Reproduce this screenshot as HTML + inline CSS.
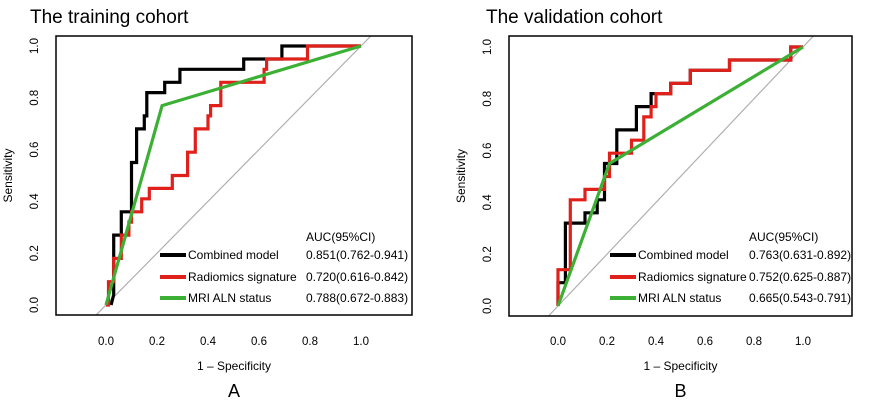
<!DOCTYPE html>
<html><head><meta charset="utf-8"><style>
body{margin:0;background:#fff;width:886px;height:401px;overflow:hidden}
svg{font-family:"Liberation Sans",sans-serif}
</style></head><body>
<svg id="s" width="886" height="401"></svg>
<script>
const tickLabels=["0.0","0.2","0.4","0.6","0.8","1.0"];
const tickValues=[0,0.2,0.4,0.6,0.8,1.0];
const seriesNames=["Combined model","Radiomics signature","MRI ALN status"];
const aucA=["0.851(0.762-0.941)","0.720(0.616-0.842)","0.788(0.672-0.883)"];
const aucB=["0.763(0.631-0.892)","0.752(0.625-0.887)","0.665(0.543-0.791)"];
const combA=[[0.02,0],[0.03,0.04],[0.03,0.27],[0.06,0.27],[0.06,0.36],[0.10,0.36],[0.10,0.55],[0.12,0.55],[0.12,0.68],[0.15,0.68],[0.15,0.73],[0.16,0.73],[0.16,0.82],[0.23,0.82],[0.23,0.86],[0.29,0.86],[0.29,0.91],[0.54,0.91],[0.54,0.95],[0.69,0.95],[0.69,1.0],[1,1]];
const radA=[[0,0],[0.01,0],[0.01,0.09],[0.03,0.09],[0.03,0.18],[0.06,0.18],[0.06,0.27],[0.09,0.27],[0.09,0.32],[0.10,0.32],[0.10,0.36],[0.14,0.36],[0.14,0.41],[0.17,0.41],[0.17,0.45],[0.26,0.45],[0.26,0.50],[0.32,0.50],[0.32,0.59],[0.35,0.59],[0.35,0.68],[0.40,0.68],[0.40,0.73],[0.41,0.73],[0.41,0.77],[0.45,0.77],[0.45,0.86],[0.62,0.86],[0.62,0.91],[0.63,0.91],[0.63,0.95],[0.79,0.95],[0.79,1.0],[1,1]];
const mriA=[[0,0],[0.22,0.77],[1,1]];
const combB=[[0,0],[0,0.09],[0.03,0.09],[0.03,0.32],[0.11,0.32],[0.11,0.36],[0.16,0.36],[0.16,0.41],[0.19,0.41],[0.19,0.55],[0.24,0.55],[0.24,0.68],[0.32,0.68],[0.32,0.77],[0.38,0.77],[0.38,0.82],[0.46,0.82],[0.46,0.86],[0.54,0.86],[0.54,0.91],[0.70,0.91],[0.70,0.95],[0.95,0.95],[0.95,1],[1,1]];
const radB=[[0,0],[0,0.14],[0.05,0.14],[0.05,0.41],[0.11,0.41],[0.11,0.45],[0.19,0.45],[0.19,0.50],[0.21,0.50],[0.21,0.59],[0.30,0.59],[0.30,0.64],[0.35,0.64],[0.35,0.73],[0.38,0.73],[0.38,0.77],[0.40,0.77],[0.40,0.82],[0.46,0.82],[0.46,0.86],[0.54,0.86],[0.54,0.91],[0.70,0.91],[0.70,0.95],[0.95,0.95],[0.95,1],[1,1]];
const mriB=[[0,0],[0.21,0.55],[1,1]];
const colors=["#000","#e0201b","#3cb034"];
const NS="http://www.w3.org/2000/svg";
const svg=document.getElementById('s');
function mk(t,a,p){const e=document.createElementNS(NS,t);for(const k in a)e.setAttribute(k,a[k]);(p||svg).appendChild(e);return e;}
function panel(o){
  const g=mk('g',{});
  
  
  const X=v=>o.x0+(o.x1-o.x0)*v, Y=v=>o.y0+(o.y1-o.y0)*v;
  const cid='c'+o.id;
  const cp=mk('clipPath',{id:cid},g);mk('rect',{x:o.bl,y:o.bt,width:o.br-o.bl,height:o.bb-o.bt},cp);
  const t=mk('text',{x:o.tx,y:23,'font-size':19},g);t.textContent=o.title;
  
  const d=mk('line',{x1:X(-0.05),y1:Y(-0.05),x2:X(1.05),y2:Y(1.05),stroke:'#b0b0b0','stroke-width':1.2,'clip-path':`url(#${cid})`},g);
  
  [o.s[0],o.s[1],o.s[2]].forEach((pts,i)=>{
    const p=mk('polyline',{points:pts.map(q=>X(q[0]).toFixed(1)+','+Y(q[1]).toFixed(1)).join(' '),fill:'none',stroke:colors[i],'stroke-width':3.2,'stroke-linejoin':'miter'},g);
    
    
  });
  const b=mk('rect',{x:o.bl,y:o.bt,width:o.br-o.bl,height:o.bb-o.bt,fill:'none',stroke:'#000','stroke-width':1.5},g);
  
  tickValues.forEach((v,i)=>{
    const tx=mk('text',{x:X(v),y:345,'font-size':11.5,'text-anchor':'middle'},g);tx.textContent=tickLabels[i];
    
    const yy=Y(v),xx=o.bl-18;
    const ty=mk('text',{x:xx,y:yy,'font-size':11.5,'text-anchor':'middle',transform:`rotate(-90 ${xx} ${yy})`},g);ty.textContent=tickLabels[i];
    
  });
  const xl=mk('text',{x:(o.bl+o.br)/2,y:370,'font-size':12,'text-anchor':'middle'},g);xl.textContent='1 – Specificity';
  
  const yx=o.bl-44,yc=(o.bt+o.bb)/2;
  const yl=mk('text',{x:yx,y:yc,'font-size':12,'text-anchor':'middle',transform:`rotate(-90 ${yx} ${yc})`},g);yl.textContent='Sensitivity';
  
  const pl=mk('text',{x:(o.bl+o.br)/2,y:397,'font-size':18,'text-anchor':'middle'},g);pl.textContent=o.id;
  
  const h=mk('text',{x:o.vx,y:241,'font-size':12},g);h.textContent='AUC(95%CI)';
  
  seriesNames.forEach((n,i)=>{
    const yy=[255,277,298][i];
    const l=mk('line',{x1:o.lx,y1:yy,x2:o.lx+26,y2:yy,stroke:colors[i],'stroke-width':4},g);
    
    const a=mk('text',{x:o.lx+28,y:yy+4,'font-size':12},g);a.textContent=n;
    
    const v=mk('text',{x:o.vx,y:yy+4,'font-size':12},g);v.textContent=o.auc[i];
    
  });
}
panel({id:'A',title:'The training cohort',tx:30,x0:106,x1:361,y0:305,y1:46,bl:56,br:412,bt:36,bb:315,lx:160,vx:306,s:[combA,radA,mriA],auc:aucA});
panel({id:'B',title:'The validation cohort',tx:486,x0:558,x1:803,y0:306,y1:47,bl:509,br:852,bt:36,bb:316,lx:610,vx:749,s:[combB,radB,mriB],auc:aucB});
</script>
</body></html>
